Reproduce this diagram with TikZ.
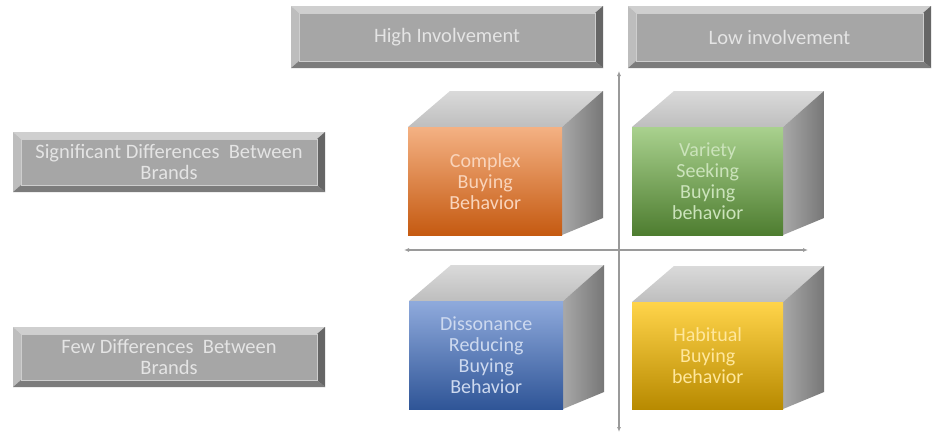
\documentclass[tikz,border=0pt]{standalone}
\usepackage{fontspec}
\setmainfont{Carlito}
\usetikzlibrary{arrows.meta}

% bevelled label buttons
\definecolor{bvface}{HTML}{A6A6A6}
\definecolor{bvtop}{HTML}{CFCFCF}
\definecolor{bvleft}{HTML}{BDBDBD}
\definecolor{bvbottom}{HTML}{7C7C7C}
\definecolor{bvright}{HTML}{666666}
\definecolor{bvtext}{HTML}{E4E4E4}
% cube faces
\definecolor{cubetopA}{HTML}{DADADA}
\definecolor{cubetopB}{HTML}{BEBEBE}
\definecolor{cubesideA}{HTML}{A8A8A8}
\definecolor{cubesideB}{HTML}{777777}
\definecolor{orangeA}{HTML}{F4B183}
\definecolor{orangeB}{HTML}{C55A11}
\definecolor{greenA}{HTML}{A9D18E}
\definecolor{greenB}{HTML}{4E7D30}
\definecolor{blueA}{HTML}{8FAADC}
\definecolor{blueB}{HTML}{2F5597}
\definecolor{yellowA}{HTML}{FFD44A}
\definecolor{yellowB}{HTML}{B88A00}
\definecolor{axisgray}{HTML}{9A9A9A}

\tikzset{
  bvlabel/.style={text=bvtext, align=center, inner sep=0pt,
    font=\fontsize{20.5}{21}\selectfont},
  cubelabel/.style={align=center, inner sep=0pt,
    font=\fontsize{20}{21}\selectfont},
  cubefront/.style={rectangle, inner sep=0pt, anchor=north west},
  axis/.style={draw=axisgray, line width=1.1pt,
    {Latex[length=5pt,width=4pt]}-{Latex[length=5pt,width=4pt]}},
}

% #1 name, (#2,#3) top left, (#4,#5) bottom right, #6 text
\newcommand\bevelbutton[6]{%
  \fill[bvtop] (#2,#3) -- (#4,#3) -- (#4-8,#3+7) -- (#2+8,#3+7) -- cycle;
  \fill[bvleft] (#2,#3) -- (#2+8,#3+7) -- (#2+8,#5-7) -- (#2,#5) -- cycle;
  \fill[bvbottom] (#2,#5) -- (#2+8,#5-7) -- (#4-8,#5-7) -- (#4,#5) -- cycle;
  \fill[bvright] (#4,#3) -- (#4-8,#3+7) -- (#4-8,#5-7) -- (#4,#5) -- cycle;
  \fill[bvface] (#2+8,#3+7) rectangle (#4-8,#5-7);
  \draw[white!45!bvface, line width=0.6pt] (#2+8,#3+7) rectangle (#4-8,#5-7);
  \node[bvlabel] (#1) at ({(#2+#4)/2},{(#3+#5)/2}) {#6};
}

% #1 name, (#2,#3) front top left, (#4,#5) front bottom right,
% #6 top colour, #7 bottom colour, #8 text colour, #9 text
\newcommand\cube[9]{%
  \shade[top color=cubetopA, bottom color=cubetopB]
    (#2,#3) -- (#2+42,#3-36) -- (#4+41,#3-36) -- (#4,#3) -- cycle;
  \shade[left color=cubesideA, right color=cubesideB]
    (#4,#3) -- (#4+41,#3-36) -- (#4+41,#5-17) -- (#4,#5) -- cycle;
  \node[cubefront, minimum width={#4-#2}, minimum height={#5-#3},
    top color=#6, bottom color=#7] (#1) at (#2,#3) {};
  \node[cubelabel, text=#8] (#1-text) at (#1.center) {#9};
}

\begin{document}
\begin{tikzpicture}[x=1pt, y=-1pt]
  \useasboundingbox (0,0) rectangle (933,434);
  \fill[white] (0,0) rectangle (933,434);

  % column and row headings
  \bevelbutton{high}{291}{6}{603}{68}{High Involvement}
  \bevelbutton{low}{628}{6}{931}{68}{Low involvement}
  \bevelbutton{signif}{13}{132}{325}{192}{Significant Differences\ \ Between\\Brands}
  \bevelbutton{few}{13}{327}{325}{387}{Few Differences\ \ Between\\Brands}

  % axes
  \coordinate (vtop) at (619,71);
  \coordinate (vbot) at (619,432);
  \coordinate (hleft) at (404,250);
  \coordinate (hright) at (808,250);
  \draw[axis] (vtop) -- (vbot);
  \draw[axis] (hleft) -- (hright);

  % the four behaviour cubes
  \cube{complex}{408}{127}{562}{235}{orangeA}{orangeB}{orangeA!55!white}{Complex\\Buying\\Behavior}
  \cube{variety}{632}{127}{783}{235}{greenA}{greenB}{greenA!60!white}{Variety\\Seeking\\Buying\\behavior}
  \cube{dissonance}{409}{301}{563}{409}{blueA}{blueB}{blueA!45!white}{Dissonance\\Reducing\\Buying\\Behavior}
  \cube{habitual}{632}{302}{783}{409}{yellowA}{yellowB}{yellowA!55!white}{Habitual\\Buying\\behavior}
\end{tikzpicture}
\end{document}
